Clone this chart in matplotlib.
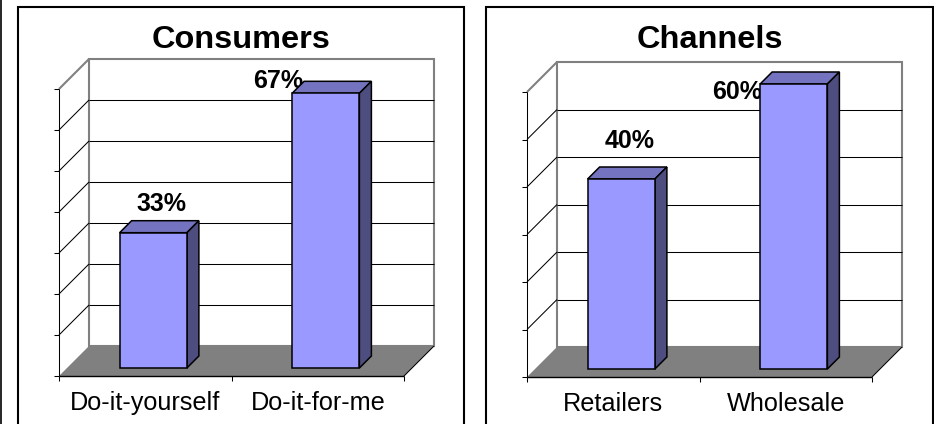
import matplotlib
matplotlib.use('Agg')
import matplotlib.pyplot as plt
from matplotlib import transforms
from matplotlib.patches import Polygon, Rectangle

plt.rcParams['font.family'] = ['Liberation Sans', 'DejaVu Sans']

# data
consumer_cats = ['Do-it-yourself', 'Do-it-for-me']
consumer_vals = [33, 67]
channel_cats = ['Retailers', 'Wholesale']
channel_vals = [40, 60]

DPI = 100
W, H = 934, 424
fig = plt.figure(figsize=(W / DPI, H / DPI), dpi=DPI)
PIX = transforms.IdentityTransform()

WALL_DEPTH = 30   # px, fake 3D depth of the floor
BAR_FRONT, BAR_BACK = 8, 20
BAR_W = 0.39
FRONT, TOP, SIDE = '#9999FF', '#7373BF', '#4D4D80'
GREY = '#808080'


def proj(ax, x, y, d):
    # data point pushed back by d pixels (up and right)
    px, py = ax.transData.transform((x, y))
    return (px + d, py + d)


def panel(rect, box, title, cats, vals, ymax, lab_off):
    ax = fig.add_axes(rect)
    n = len(cats)
    ax.set_xlim(0, n)
    ax.set_ylim(0, ymax)
    ax.axis('off')
    P = lambda x, y, d: proj(ax, x, y, d)

    def line(a, b, color='black', lw=0.75, z=2):
        ax.plot([a[0], b[0]], [a[1], b[1]], transform=PIX, color=color,
                lw=lw, zorder=z, clip_on=False, solid_capstyle='butt')

    # back wall + floor
    ax.add_patch(Polygon([P(0, 0, WALL_DEPTH), P(n, 0, WALL_DEPTH),
                          P(n, ymax, WALL_DEPTH), P(0, ymax, WALL_DEPTH)],
                         transform=PIX, facecolor='white', edgecolor=GREY,
                         lw=1.5, zorder=1, clip_on=False))
    ax.add_patch(Polygon([P(0, 0, 0), P(n, 0, 0), P(n, 0, WALL_DEPTH),
                          P(0, 0, WALL_DEPTH)], transform=PIX,
                         facecolor=GREY, edgecolor='none', zorder=1.5,
                         clip_on=False))
    line(P(n, 0, 0), P(n, 0, WALL_DEPTH))

    # gridlines on the back wall and on the side wall
    for v in range(10, ymax + 1, 10):
        c = GREY if v == ymax else 'black'
        lw = 1.5 if v == ymax else 0.75
        if v < ymax:
            line(P(0, v, WALL_DEPTH), P(n, v, WALL_DEPTH), c, lw)
        line(P(0, v, 0), P(0, v, WALL_DEPTH), c, lw)

    # axes
    line(P(0, 0, 0), P(0, ymax, 0))
    line(P(0, 0, 0), P(n, 0, 0), lw=1)
    for v in range(0, ymax + 1, 10):
        x0, y0 = P(0, v, 0)
        line((x0 - 5, y0), (x0, y0))
    for i in range(n + 1):
        x0, y0 = P(i, 0, 0)
        line((x0, y0), (x0, y0 - 5))

    # bars: front face through ax.bar, then top and side faces
    front = ax.transData + transforms.ScaledTranslation(
        BAR_FRONT / DPI, BAR_FRONT / DPI, fig.dpi_scale_trans)
    xs = [i + 0.5 for i in range(n)]
    ax.bar(xs, vals, BAR_W, color=FRONT, edgecolor='black', lw=1.1,
           transform=front, zorder=5, clip_on=False)
    for x, v in zip(xs, vals):
        a, b = x - BAR_W / 2, x + BAR_W / 2
        ax.add_patch(Polygon([P(a, v, BAR_FRONT), P(b, v, BAR_FRONT),
                              P(b, v, BAR_BACK), P(a, v, BAR_BACK)],
                             transform=PIX, facecolor=TOP, edgecolor='black',
                             lw=1.1, zorder=4, clip_on=False))
        ax.add_patch(Polygon([P(b, 0, BAR_FRONT), P(b, v, BAR_FRONT),
                              P(b, v, BAR_BACK), P(b, 0, BAR_BACK)],
                             transform=PIX, facecolor=SIDE, edgecolor='black',
                             lw=1.1, zorder=4, clip_on=False))

    # value labels (sit behind the bars, as in the original)
    for x, v, off in zip(xs, vals, lab_off):
        ax.annotate(f'{v}%', (x, v), xytext=off, textcoords='offset pixels',
                    ha='center', va='center', fontsize=18,
                    fontweight='bold', zorder=3, annotation_clip=False)

    # category labels
    for x, c in zip(xs, cats):
        ax.annotate(c, (x, 0), xytext=(0, -34), textcoords='offset pixels',
                    ha='center', va='baseline', fontsize=18.2,
                    annotation_clip=False)

    # panel frame and title
    bx0, bx1 = box
    fig.add_artist(Rectangle((bx0, -10), bx1 - bx0, H - 7 + 10,
                             transform=PIX, fill=False, edgecolor='black',
                             lw=1.5))
    fig.text((bx0 + bx1) / 2 / W, (H - 48) / H, title, ha='center',
             va='baseline', fontsize=23.4, fontweight='bold')


panel([59 / W, 48 / H, 345 / W, 287 / H], (18, 464), 'Consumers',
      consumer_cats, consumer_vals, 70, [(16, 37), (-40, 20)])
panel([527 / W, 47 / H, 345 / W, 285 / H], (486, 933), 'Channels',
      channel_cats, channel_vals, 60, [(16, 46), (-49, 0)])

# thin rule on the far left edge
fig.add_artist(plt.Line2D([1, 1], [0, H], transform=PIX, color='black',
                          lw=1.2))

fig.savefig('out.png', dpi=DPI)
